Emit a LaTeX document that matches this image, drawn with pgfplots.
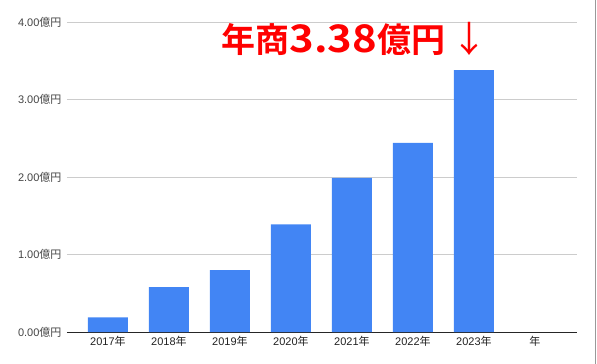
\documentclass[border=0pt]{standalone}
\usepackage{fontspec}
\usepackage{graphicx}
\usepackage{pgfplots}
\pgfplotsset{compat=1.18}
\setmainfont{Liberation Sans}
\newfontfamily\cjk{Noto Sans CJK JP}
\newfontfamily\cjkb{Noto Sans CJK JP Bold}
\definecolor{barblue}{HTML}{4285F4}
\definecolor{gridgray}{HTML}{CCCCCC}
\definecolor{ticktext}{HTML}{444444}
\definecolor{xtext}{HTML}{222222}
\begin{document}
\begin{tikzpicture}
\begin{axis}[
  at={(0,0)}, anchor=south west,
  scale only axis,
  width=510bp, height=310bp,
  xmin=-0.672, xmax=7.69,
  ymin=0, ymax=4,
  ytick={0,1,2,3,4},
  xtick={0,1,2,3,4,5,6,7},
  xticklabels={2017{\cjk 年},2018{\cjk 年},2019{\cjk 年},2020{\cjk 年},2021{\cjk 年},2022{\cjk 年},2023{\cjk 年},{\cjk 年}},
  yticklabel={\pgfmathprintnumber[fixed,fixed zerofill,precision=2]{\tick}{\cjk 億円}},
  /pgf/number format/assume math mode=true,
  ymajorgrids,
  grid style={draw=gridgray, line width=0.8bp},
  axis line style={draw=none},
  axis x line*=bottom,
  x axis line style={draw=black!85, line width=1bp},
  axis y line*=left,
  y axis line style={draw=none},
  major tick length=0pt,
  tick style={draw=none},
  yticklabel style={font=\fontsize{11bp}{13bp}\selectfont, text=ticktext, anchor=east, xshift=-2bp},
  xticklabel style={font=\fontsize{11bp}{13bp}\selectfont, text=xtext, yshift=-1bp},
  clip=false,
]
\addplot[ybar, bar width=40bp, fill=barblue, draw=none] coordinates {
  (0,0.19) (1,0.58) (2,0.80) (3,1.39) (4,1.99) (5,2.44) (6,3.38)
};
\node[text=red, font=\cjkb\fontsize{34bp}{36bp}\selectfont, anchor=center, inner sep=0pt]
  at (axis cs:4.04,3.78) {年商{\fontsize{38bp}{40bp}\selectfont\scalebox{1.1}[1]{3.38}}億円\hspace{6bp}{\cjk\fontsize{36bp}{38bp}\selectfont ↓}};
\end{axis}
\useasboundingbox (-67bp,-32bp) rectangle (530bp,332bp);
\draw[draw=black!40, line width=1bp] (528bp,-32bp) -- (528bp,332bp);
\end{tikzpicture}
\end{document}
